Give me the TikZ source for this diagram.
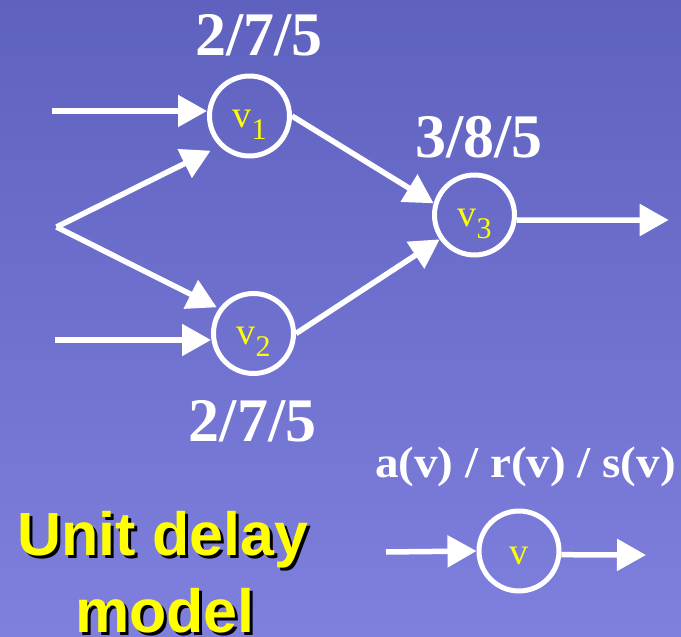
\documentclass[tikz,border=0pt]{standalone}
\usepackage{fontspec}
\setmainfont{Liberation Serif}
\newfontfamily\arialfont{Liberation Sans}
\usetikzlibrary{arrows.meta}
\definecolor{bgtop}{HTML}{5F61BF}
\definecolor{bgbot}{HTML}{7F80DE}
\definecolor{lblyellow}{HTML}{FFFF00}
\newcommand\vlab[1]{\raisebox{-11pt}[0pt][0pt]{\fontsize{38}{38}\selectfont v\raisebox{-12pt}{\fontsize{30}{30}\selectfont #1}}}
\begin{document}
\begin{tikzpicture}[x=1pt,y=-1pt,
  vertex/.style={circle,draw=white,line width=5pt,minimum size=80pt,inner sep=0pt,text=lblyellow},
  flow/.style={draw=white,line width=5.5pt,-{Triangle[length=29pt,width=31pt]}},
  num/.style={font=\fontsize{62}{62}\selectfont\bfseries,text=white,inner sep=0pt,anchor=base},
  title/.style={font=\fontsize{61}{61}\selectfont\arialfont\bfseries,inner sep=0pt,anchor=base}]
\shade[top color=bgtop,bottom color=bgbot] (0,0) rectangle (681,637);
\useasboundingbox (0,0) rectangle (681,637);

% vertices
\node[vertex] (v1) at (249.5,116) {\vlab{1}};
\node[vertex] (v2) at (253.5,333.5) {\vlab{2}};
\node[vertex] (v3) at (474.5,215) {\vlab{3}};
\node[vertex] (v) at (519,551) {\raisebox{-13pt}[0pt][0pt]{\fontsize{38}{38}\selectfont v}};

% free ends
\coordinate (in1) at (52,111);
\coordinate (in2) at (55,340);
\coordinate (fork) at (56.5,227);
\coordinate (t1) at (210.6,150.7);
\coordinate (t2) at (216.7,307.3);
\coordinate (out3) at (668.7,220);
\coordinate (inv) at (386,552);
\coordinate (outv) at (646,555);

% connectors
\draw[flow] (in1) -- (v1.west |- in1);
\draw[flow] (in2) -- (v2.west |- in2);
\draw[flow] (fork) -- (t1);
\draw[flow] (fork) -- (t2);
\draw[flow] (v1.east) -- (v3.164);
\draw[flow] (v2.east) -- (v3.215);
\draw[flow] (v3.-7) -- (out3);
\draw[flow] (inv) -- (v.west);
\draw[flow] (v.-5) -- (outv);

% labels
\node[num] (l1) at (259,55.5) {2/7/5};
\node[num] (l3) at (479,157) {3/8/5};
\node[num] (l2) at (252.5,441) {2/7/5};
\node[num,font=\fontsize{44}{44}\selectfont\bfseries] (leg) at (525.5,477) {\scalebox{1.07}[1]{a(v) / r(v) / s(v)}};

\node[title,text=black] (ts1) at (166,558) {Unit delay};
\node[title,text=lblyellow] (t1txt) at (163,555) {Unit delay};
\node[title,text=black] (ts2) at (168,635) {model};
\node[title,text=lblyellow] (t2txt) at (165,632) {model};
\end{tikzpicture}
\end{document}
